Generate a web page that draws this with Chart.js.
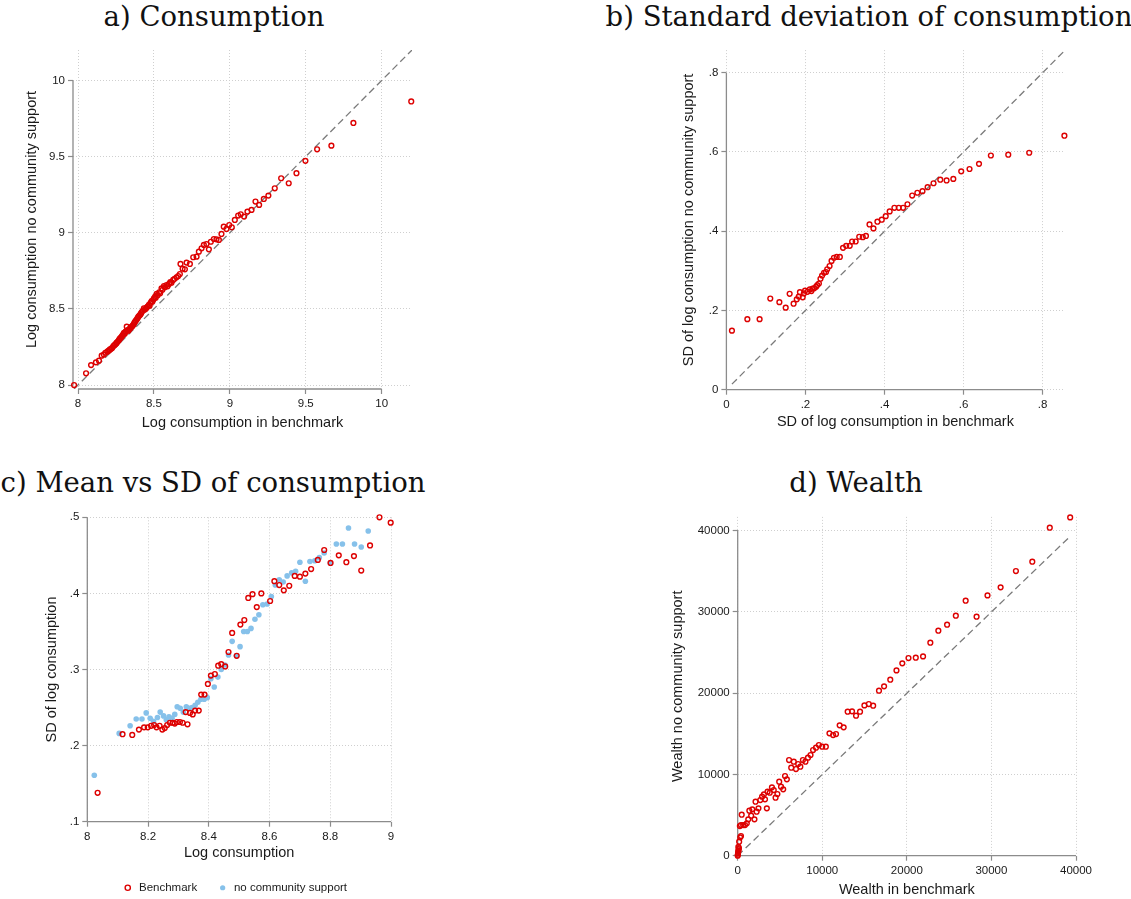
<!DOCTYPE html>
<html>
<head>
<meta charset="utf-8">
<script src="https://cdn.jsdelivr.net/npm/chart.js@4.4.1/dist/chart.umd.min.js"></script>
<style>
  html, body { margin: 0; padding: 0; background: #fff; overflow: hidden; }
  #page { position: relative; width: 1131px; height: 899px; overflow: hidden; }
  canvas { position: absolute; }
  .ptitle { position: absolute; font-family: 'DejaVu Serif', serif; font-size: 27.5px; line-height: 1; color: #111; white-space: nowrap; transform: translateX(-50%); }
</style>
</head>
<body>
<div id="page">
  <div class="ptitle" style="left:214px; top:3px;">a) Consumption</div>
  <div class="ptitle" style="left:869px; top:3px;">b) Standard deviation of consumption</div>
  <div class="ptitle" style="left:213px; top:469px;">c) Mean vs SD of consumption</div>
  <div class="ptitle" style="left:856px; top:469px;">d) Wealth</div>
  <canvas id="chartA" width="430" height="395" style="left:0px; top:40px;"></canvas>
  <canvas id="chartB" width="491" height="395" style="left:640px; top:40px;"></canvas>
  <canvas id="chartC" width="430" height="410" style="left:0px; top:500px;"></canvas>
  <canvas id="chartD" width="491" height="409" style="left:640px; top:490px;"></canvas>
</div>
<script>
// a) log consumption, benchmark vs no community support
const consBench = [7.974, 8.053, 8.086, 8.118, 8.138, 8.156, 8.170, 8.180, 8.193, 8.200, 8.207, 8.211, 8.218, 8.225, 8.233, 8.240, 8.246, 8.252, 8.255, 8.262, 8.268, 8.272, 8.277, 8.283, 8.288, 8.293, 8.299, 8.303, 8.308, 8.312, 8.316, 8.321, 8.326, 8.332, 8.337, 8.343, 8.348, 8.354, 8.360, 8.366, 8.371, 8.376, 8.382, 8.388, 8.393, 8.398, 8.404, 8.410, 8.415, 8.419, 8.426, 8.434, 8.438, 8.445, 8.452, 8.458, 8.467, 8.472, 8.478, 8.485, 8.490, 8.496, 8.500, 8.508, 8.512, 8.518, 8.525, 8.535, 8.541, 8.550, 8.556, 8.566, 8.572, 8.583, 8.590, 8.600, 8.608, 8.616, 8.627, 8.636, 8.649, 8.660, 8.671, 8.675, 8.689, 8.704, 8.715, 8.737, 8.759, 8.781, 8.796, 8.814, 8.829, 8.846, 8.862, 8.875, 8.895, 8.912, 8.928, 8.945, 8.960, 8.978, 8.996, 9.013, 9.033, 9.055, 9.072, 9.094, 9.116, 9.143, 9.169, 9.193, 9.224, 9.254, 9.296, 9.338, 9.388, 9.439, 9.498, 9.575, 9.669, 9.814, 10.195];
const consNoSupport = [8.000, 8.077, 8.131, 8.149, 8.160, 8.193, 8.200, 8.212, 8.219, 8.224, 8.230, 8.234, 8.238, 8.244, 8.256, 8.262, 8.268, 8.273, 8.278, 8.286, 8.292, 8.300, 8.306, 8.312, 8.318, 8.326, 8.335, 8.342, 8.336, 8.348, 8.353, 8.383, 8.360, 8.357, 8.366, 8.372, 8.378, 8.383, 8.390, 8.398, 8.408, 8.416, 8.424, 8.432, 8.441, 8.449, 8.456, 8.462, 8.470, 8.478, 8.487, 8.504, 8.494, 8.500, 8.508, 8.515, 8.526, 8.520, 8.540, 8.552, 8.547, 8.560, 8.569, 8.580, 8.574, 8.598, 8.590, 8.609, 8.603, 8.635, 8.625, 8.650, 8.642, 8.657, 8.648, 8.664, 8.676, 8.672, 8.690, 8.698, 8.707, 8.716, 8.729, 8.795, 8.764, 8.760, 8.804, 8.795, 8.839, 8.843, 8.876, 8.898, 8.920, 8.926, 8.891, 8.941, 8.959, 8.957, 8.953, 8.992, 9.040, 9.025, 9.051, 9.036, 9.084, 9.113, 9.121, 9.106, 9.139, 9.150, 9.205, 9.183, 9.222, 9.244, 9.292, 9.358, 9.325, 9.391, 9.472, 9.548, 9.572, 9.721, 9.862];
const consTicks = [8, 8.5, 9, 9.5, 10];
const consDiag = [7.974, 10.2];

// b) SD of log consumption, benchmark vs no community support
const sdBench = [0.014, 0.053, 0.084, 0.111, 0.134, 0.150, 0.160, 0.170, 0.178, 0.183, 0.186, 0.193, 0.196, 0.199, 0.205, 0.211, 0.215, 0.218, 0.222, 0.227, 0.230, 0.234, 0.238, 0.242, 0.247, 0.252, 0.255, 0.261, 0.266, 0.272, 0.279, 0.287, 0.295, 0.303, 0.312, 0.318, 0.327, 0.336, 0.345, 0.353, 0.362, 0.372, 0.382, 0.393, 0.403, 0.413, 0.425, 0.436, 0.447, 0.458, 0.470, 0.483, 0.496, 0.509, 0.524, 0.541, 0.557, 0.574, 0.594, 0.615, 0.639, 0.669, 0.713, 0.766, 0.855];
const sdNoSupport = [0.149, 0.178, 0.178, 0.230, 0.221, 0.207, 0.242, 0.217, 0.228, 0.235, 0.246, 0.233, 0.243, 0.250, 0.247, 0.253, 0.249, 0.255, 0.256, 0.260, 0.264, 0.268, 0.280, 0.288, 0.295, 0.297, 0.304, 0.312, 0.325, 0.333, 0.335, 0.335, 0.358, 0.363, 0.363, 0.374, 0.374, 0.386, 0.385, 0.388, 0.417, 0.407, 0.424, 0.429, 0.438, 0.450, 0.459, 0.459, 0.459, 0.468, 0.490, 0.497, 0.501, 0.511, 0.521, 0.530, 0.528, 0.532, 0.551, 0.557, 0.570, 0.591, 0.593, 0.598, 0.641];
const sdTicks = [0, 0.2, 0.4, 0.6, 0.8];
const sdDiag = [0.014, 0.855];

// c) mean vs SD of log consumption
const meanBench = [8.034, 8.116, 8.148, 8.170, 8.187, 8.199, 8.210, 8.220, 8.228, 8.238, 8.247, 8.255, 8.263, 8.272, 8.281, 8.288, 8.295, 8.305, 8.314, 8.324, 8.330, 8.338, 8.347, 8.355, 8.367, 8.375, 8.386, 8.397, 8.407, 8.420, 8.431, 8.441, 8.454, 8.465, 8.477, 8.492, 8.504, 8.517, 8.530, 8.544, 8.558, 8.573, 8.602, 8.616, 8.632, 8.647, 8.665, 8.683, 8.700, 8.718, 8.737, 8.759, 8.780, 8.801, 8.828, 8.853, 8.878, 8.902, 8.931, 8.962, 8.999];
const spreadBench = [0.138, 0.215, 0.214, 0.221, 0.224, 0.224, 0.226, 0.227, 0.224, 0.226, 0.221, 0.223, 0.227, 0.230, 0.230, 0.229, 0.231, 0.231, 0.230, 0.244, 0.228, 0.243, 0.241, 0.246, 0.246, 0.267, 0.267, 0.281, 0.292, 0.294, 0.305, 0.307, 0.304, 0.323, 0.348, 0.318, 0.359, 0.365, 0.394, 0.399, 0.382, 0.400, 0.390, 0.416, 0.411, 0.404, 0.410, 0.423, 0.422, 0.426, 0.432, 0.444, 0.457, 0.440, 0.450, 0.441, 0.449, 0.430, 0.463, 0.500, 0.493];
const meanNoSupport = [8.023, 8.105, 8.141, 8.161, 8.180, 8.194, 8.207, 8.218, 8.231, 8.240, 8.251, 8.260, 8.269, 8.279, 8.288, 8.296, 8.306, 8.316, 8.326, 8.336, 8.345, 8.355, 8.364, 8.374, 8.385, 8.395, 8.407, 8.418, 8.430, 8.441, 8.453, 8.465, 8.477, 8.491, 8.503, 8.515, 8.527, 8.539, 8.552, 8.565, 8.578, 8.592, 8.606, 8.619, 8.632, 8.645, 8.658, 8.673, 8.686, 8.700, 8.718, 8.733, 8.749, 8.764, 8.780, 8.800, 8.820, 8.840, 8.860, 8.880, 8.902, 8.925];
const spreadNoSupport = [0.161, 0.216, 0.226, 0.235, 0.235, 0.243, 0.236, 0.232, 0.237, 0.244, 0.239, 0.234, 0.238, 0.236, 0.241, 0.251, 0.249, 0.244, 0.251, 0.249, 0.250, 0.253, 0.257, 0.261, 0.261, 0.263, 0.288, 0.277, 0.290, 0.300, 0.306, 0.319, 0.337, 0.318, 0.330, 0.350, 0.350, 0.354, 0.366, 0.372, 0.385, 0.386, 0.396, 0.411, 0.418, 0.415, 0.423, 0.427, 0.429, 0.441, 0.416, 0.442, 0.443, 0.447, 0.453, 0.440, 0.465, 0.465, 0.486, 0.465, 0.461, 0.482];
const meanTicks = [8, 8.2, 8.4, 8.6, 8.8, 9];
const spreadTicks = [0.1, 0.2, 0.3, 0.4, 0.5];

// d) wealth, benchmark vs no community support
const wealthBench = [0, 20, 40, 60, 90, 110, 140, 80, 172, 301, 388, 258, 388, 474, 646, 861, 1076, 1249, 1378, 1593, 1722, 1981, 2110, 2239, 2454, 2669, 2885, 3100, 3229, 3444, 3531, 3789, 4047, 4263, 4478, 4693, 4908, 5123, 5381, 5597, 5812, 6071, 6329, 6631, 6889, 7147, 7406, 7707, 8008, 8310, 8611, 8912, 9257, 9601, 9989, 10420, 10850, 11281, 11625, 12056, 12529, 13003, 13519, 13993, 14466, 14983, 15500, 16017, 16706, 17309, 18041, 18773, 19462, 20194, 21055, 21916, 22777, 23724, 24758, 25791, 26954, 28245, 29537, 31087, 32895, 34833, 36900, 39311];
const wealthNoSupport = [0, 120, 300, 480, 620, 800, 950, 1100, 1723, 2256, 2420, 3651, 3774, 5046, 3774, 3774, 3979, 4472, 5538, 4923, 5703, 4472, 6646, 5415, 5826, 6851, 7262, 7549, 6933, 5826, 7877, 7754, 8410, 8082, 7139, 7590, 9108, 8492, 8164, 9805, 9395, 11774, 10831, 11569, 10667, 11282, 10954, 11774, 11569, 12062, 12390, 13005, 13292, 13620, 13415, 13415, 15056, 14851, 14974, 16041, 15795, 17723, 17764, 17231, 17723, 18502, 18667, 18462, 20308, 20841, 21662, 22810, 23672, 24328, 24369, 24533, 26215, 27692, 28431, 29538, 31385, 29415, 32041, 33026, 35036, 36185, 40369, 41641];
const wealthTicks = [0, 10000, 20000, 30000, 40000];
const wealthDiag = [0, 39311];

const red = '#dd0000';
const lightBlue = '#86c1ea';
const axisGray = '#8c8c8c';
const gridGray = '#cfcfcf';
const textColor = '#1a1a1a';
const sans = 'Liberation Sans';

// stata style: axis line only runs over the tick range
const tickRangeAxes = {
    id: 'tickRangeAxes',
    afterLayout(chart) {
        // nudge the legend a little to the left, like the original
        if (chart.options.plugins.legend.display && chart.legend) {
            chart.legend.left -= 4.5;
            chart.legend.right -= 4.5;
        }
    },
    beforeDatasetsDraw(chart) {
        const { ctx, chartArea, scales } = chart;
        const xs = scales.x, ys = scales.y;
        ctx.save();
        ctx.strokeStyle = axisGray;
        ctx.lineWidth = 1.3;
        ctx.beginPath();
        ctx.moveTo(chartArea.left, ys.getPixelForValue(ys.ticks[0].value));
        ctx.lineTo(chartArea.left, ys.getPixelForValue(ys.ticks[ys.ticks.length - 1].value));
        ctx.moveTo(xs.getPixelForValue(xs.ticks[0].value), chartArea.bottom);
        ctx.lineTo(xs.getPixelForValue(xs.ticks[xs.ticks.length - 1].value), chartArea.bottom);
        ctx.stroke();
        ctx.restore();
    }
};

function toPoints(xs, ys) {
    return xs.map((v, i) => ({ x: v, y: ys[i] }));
}

function tickLabel(v) {
    return (v > 0 && v < 1) ? String(v).slice(1) : String(v);
}

function makeAxis(min, max, ticks, title, isX, size, titlePad) {
    return {
        type: 'linear',
        min: min,
        max: max,
        afterBuildTicks: (s) => { s.ticks = ticks.map(v => ({ value: v })); },
        afterFit: (s) => { if (isX) { s.height = size; } else { s.width = size; } },
        ticks: {
            callback: (value) => tickLabel(value),
            font: { family: sans, size: 11.5 },
            color: textColor,
            padding: 3,
            maxRotation: 0,
            autoSkip: false
        },
        grid: {
            color: gridGray,
            lineWidth: 1,
            tickLength: 5,
            tickColor: axisGray,
            tickWidth: 1.2
        },
        border: { display: false, dash: [1, 2] },
        title: {
            display: true,
            text: title,
            color: textColor,
            font: { family: sans, size: 14.5 },
            padding: titlePad
        }
    };
}

function hollowSet(label, points) {
    return {
        label: label,
        data: points,
        pointStyle: 'circle',
        pointRadius: 2.4,
        pointBorderWidth: 1.4,
        borderWidth: 1.4,
        borderColor: red,
        backgroundColor: 'rgba(255,255,255,0)',
        clip: false,
        order: 0
    };
}

function diagSet(ends) {
    return {
        type: 'line',
        label: '45 degree',
        data: ends.map(v => ({ x: v, y: v })),
        borderColor: '#7a7a7a',
        borderWidth: 1.3,
        borderDash: [7, 4],
        pointRadius: 0,
        fill: false,
        order: 5
    };
}

function generateScatter(canvasId, datasets, xAxis, yAxis, padding, showLegend) {
    const config = {
        type: 'scatter',
        data: { datasets: datasets },
        options: {
            responsive: false,
            animation: false,
            devicePixelRatio: 1,
            layout: { padding: padding },
            plugins: {
                legend: {
                    display: showLegend,
                    position: 'bottom',
                    fullSize: false,
                    labels: {
                        usePointStyle: true,
                        boxWidth: 11,
                        boxHeight: 3.7,
                        padding: 20,
                        color: textColor,
                        font: { family: sans, size: 11.5 },
                        filter: (item) => item.text !== '45 degree'
                    }
                },
                tooltip: { enabled: false }
            },
            scales: { x: xAxis, y: yAxis }
        },
        plugins: [tickRangeAxes]
    };
    return new Chart(document.getElementById(canvasId), config);
}

generateScatter('chartA',
    [hollowSet('Benchmark', toPoints(consBench, consNoSupport)), diagSet(consDiag)],
    makeAxis(7.967, 10.2, consTicks, 'Log consumption in benchmark', true, 46, { top: 0, bottom: 3 }),
    makeAxis(7.974, 10.2, consTicks, 'Log consumption no community support', false, 73, { top: 23, bottom: 0 }),
    { left: 0, top: 10, right: 18, bottom: 0 }, false);

generateScatter('chartB',
    [hollowSet('Benchmark', toPoints(sdBench, sdNoSupport)), diagSet(sdDiag)],
    makeAxis(0, 0.855, sdTicks, 'SD of log consumption in benchmark', true, 45.3, { top: 0, bottom: 4 }),
    makeAxis(0, 0.857, sdTicks, 'SD of log consumption no community support', false, 86.4, { top: 40.6, bottom: 0 }),
    { left: 0, top: 10.1, right: 66.6, bottom: 0 }, false);

generateScatter('chartC',
    [hollowSet('Benchmark', toPoints(meanBench, spreadBench)),
     {
        label: 'no community support',
        data: toPoints(meanNoSupport, spreadNoSupport),
        pointStyle: 'circle',
        pointRadius: 2.8,
        pointBorderWidth: 0,
        borderWidth: 0,
        borderColor: lightBlue,
        backgroundColor: lightBlue,
        clip: false,
        order: 1
     }],
    makeAxis(8, 9, meanTicks, 'Log consumption', true, 40.3, { top: 0, bottom: 0 }),
    makeAxis(0.1, 0.5, spreadTicks, 'SD of log consumption', false, 87.3, { top: 43, bottom: 0 }),
    { left: 0, top: 17.3, right: 39, bottom: 6.5 }, true);

generateScatter('chartD',
    [hollowSet('Benchmark', toPoints(wealthBench, wealthNoSupport)), diagSet(wealthDiag)],
    makeAxis(0, 40000, wealthTicks, 'Wealth in benchmark', true, 43.3, { top: 0, bottom: 0 }),
    makeAxis(0, 41700, wealthTicks, 'Wealth no community support', false, 97.7, { top: 29.7, bottom: 0 }),
    { left: 0, top: 26.9, right: 55, bottom: 0 }, false);
</script>
</body>
</html>
